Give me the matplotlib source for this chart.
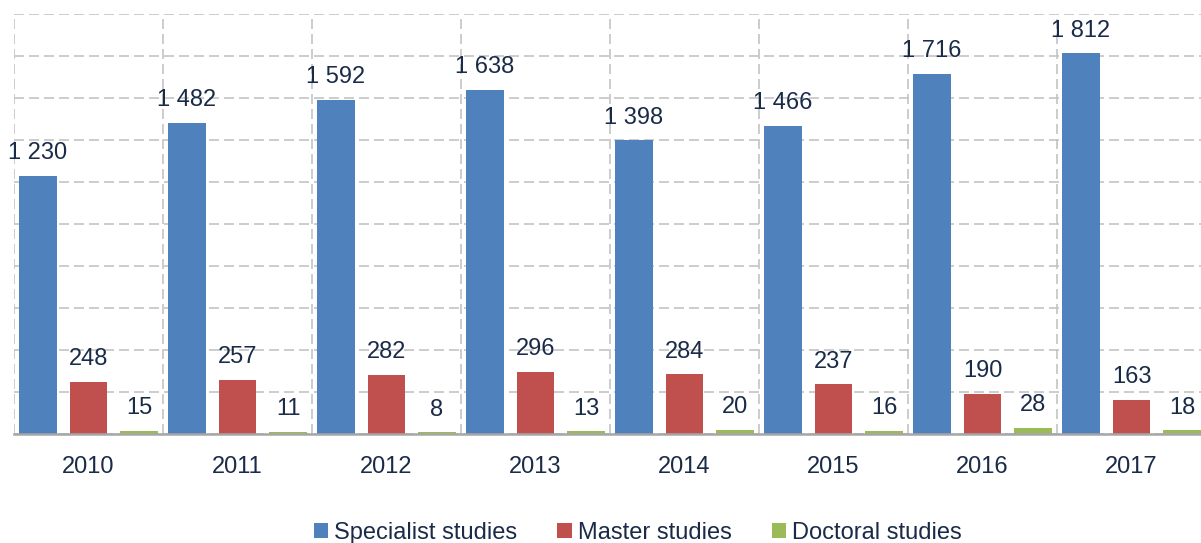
import matplotlib
matplotlib.use('Agg')
import matplotlib.pyplot as plt
from matplotlib.patches import Patch
import numpy as np

# values
years = ['2010', '2011', '2012', '2013', '2014', '2015', '2016', '2017']
specialist = [1230, 1482, 1592, 1638, 1398, 1466, 1716, 1812]
master = [248, 257, 282, 296, 284, 237, 190, 163]
doctoral = [15, 11, 8, 13, 20, 16, 28, 18]
series_names = ['Specialist studies', 'Master studies', 'Doctoral studies']

colors = ['#4F81BD', '#C0504D', '#9BBB59']
txt = '#1A2B48'
grid_col = '#C3C3C3'

plt.rcParams['font.family'] = ['Liberation Sans', 'DejaVu Sans']

fig = plt.figure(figsize=(12.01, 5.43), dpi=100)
ax = fig.add_axes([14/1201, 109/543, 1192/1201, 420/543])

x = np.arange(len(years))
w = 0.255
offs = [-0.339, 0.0, 0.339]

for vals, off, c in zip([specialist, master, doctoral], offs, colors):
    bars = ax.bar(x + off, vals, width=w, color=c, linewidth=0, zorder=3)
    for b, v in zip(bars, vals):
        ax.annotate(f'{v:,}'.replace(',', ' '),
                    (b.get_x() + b.get_width()/2, v),
                    xytext=(0, 12), textcoords='offset points',
                    ha='center', va='baseline', fontsize=17, color=txt)

ax.set_xlim(-0.5, len(years) - 0.5)
ax.set_ylim(0, 2000)
ax.set_yticks(np.arange(0, 2001, 200))
ax.set_yticklabels([])
ax.set_xticks(x)
ax.set_xticklabels(years, fontsize=17, color=txt)
ax.set_xticks(np.arange(-0.5, len(years), 1.0), minor=True)
ax.tick_params(axis='both', which='both', length=0)
ax.tick_params(axis='x', pad=16)

ax.grid(axis='y', which='major', color=grid_col, linestyle=(0, (6, 3)), linewidth=1.2, zorder=0)
ax.grid(axis='x', which='minor', color=grid_col, linestyle=(0, (6, 3)), linewidth=1.2, zorder=0)
ax.grid(axis='x', which='major', visible=False)

for s in ['top', 'right', 'left']:
    ax.spines[s].set_visible(False)
ax.spines['bottom'].set_color('#A6A6A6')
ax.spines['bottom'].set_linewidth(1.8)
ax.spines['bottom'].set_zorder(4)

handles = [Patch(facecolor=c, edgecolor='none') for c in colors]
fig.legend(handles, series_names, loc='center', bbox_to_anchor=(0.531, 0.019),
           ncol=3, frameon=False, fontsize=17, labelcolor=txt,
           handlelength=0.6, handleheight=0.6, handletextpad=0.25,
           columnspacing=1.7)

fig.savefig('out.png', dpi=100)
